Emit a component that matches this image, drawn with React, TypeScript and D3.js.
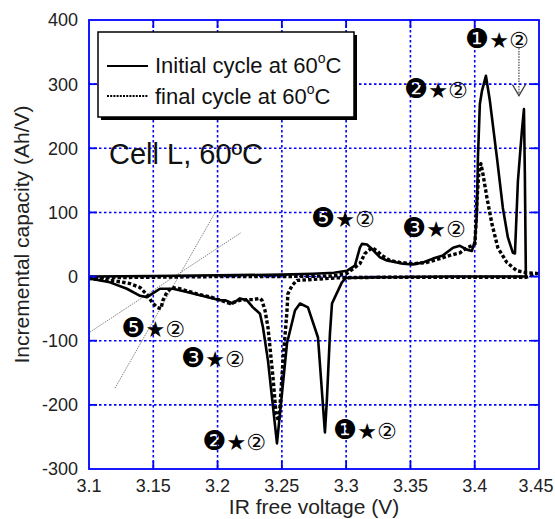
import React from "react";
import * as d3 from "d3";

// ---------- data ----------
const xTicks = [3.1, 3.15, 3.2, 3.25, 3.3, 3.35, 3.4, 3.45];
const yTicks = [-300, -200, -100, 0, 100, 200, 300, 400];

// initial cycle at 60°C (charge 3.1 -> 3.44, then discharge 3.44 -> 3.1)
const initialV = [
  3.1, 3.15, 3.2, 3.25, 3.2742, 3.2906, 3.3006, 3.3068, 3.3107, 3.3123, 3.3162, 3.3201, 3.3263,
  3.3317, 3.3395, 3.3442, 3.3519, 3.3597, 3.3675, 3.3753, 3.3831, 3.3885, 3.3939, 3.3978,
  3.4002, 3.4017, 3.4025, 3.404, 3.4056, 3.4087, 3.4118, 3.4173, 3.4219, 3.4258, 3.4297,
  3.4313, 3.4336, 3.4367, 3.4383, 3.439, 3.4398,
  3.44, 3.38, 3.33, 3.3, 3.2967, 3.2913, 3.289, 3.2874, 3.285, 3.2835, 3.2781, 3.2703,
  3.2641, 3.2602, 3.254, 3.2462, 3.2392, 3.2353, 3.233, 3.2275, 3.2229, 3.2174, 3.2119,
  3.2058, 3.2019, 3.1918, 3.1762, 3.1653, 3.1552, 3.149, 3.1451, 3.1397, 3.1295, 3.1163, 3.1,
];
const initialIC = [
  0, 1, 2, 3, 4.5, 6, 9, 17, 45, 51, 50, 43, 30,
  25, 22, 20, 19, 22, 28, 33, 45, 48, 42, 40,
  56, 98, 185, 269, 289, 313, 274, 185, 107, 61, 37,
  36, 149, 227, 261, 160, -2,
  0, 0, -1, -2, -9, -32, -42, -89, -193, -243, -95, -48,
  -42, -53, -104, -260, -131, -79, -58, -48, -37, -34, -42,
  -37, -37, -32, -24, -19, -19, -27, -32, -30, -19, -9, -3,
];

// final cycle at 60°C
const finalV = [
  3.1, 3.15, 3.2, 3.25, 3.29, 3.3006, 3.3107, 3.3146, 3.3201, 3.324, 3.3278, 3.334, 3.3418,
  3.3519, 3.3628, 3.3729, 3.3807, 3.3885, 3.3939, 3.3978, 3.4002, 3.4017, 3.4033, 3.4048,
  3.4064, 3.4095, 3.4134, 3.418, 3.425, 3.4328, 3.4406, 3.4484,
  3.44, 3.38, 3.33, 3.2928, 3.2617, 3.2579, 3.2547, 3.254, 3.2509, 3.2485, 3.2475, 3.2455,
  3.2431, 3.2392, 3.2369, 3.2345, 3.233, 3.2275, 3.2229, 3.2174, 3.2096, 3.1964, 3.184,
  3.1708, 3.1645, 3.1607, 3.1575, 3.156, 3.1529, 3.149, 3.1459, 3.1397, 3.1319, 3.1241, 3.114, 3.1,
];
const finalIC = [
  -2, -1, 0, 0, 1, 5, 20, 36, 45, 40, 33, 25, 22,
  20, 22, 28, 33, 37, 45, 48, 51, 118, 165, 176,
  160, 123, 82, 45, 22, 9, 6, 5,
  -1, -1, -1, -2, -6, -14, -27, -53, -131, -203, -225, -215,
  -157, -79, -53, -37, -34, -36, -36, -37, -42, -33, -27,
  -19, -17, -24, -37, -50, -48, -40, -30, -17, -11, -8, -6, -3,
];

// dotted tangent construction lines
const tangentA_V = [3.1202, 3.198];
const tangentA_IC = [-174, 99.5];
const tangentB_V = [3.0992, 3.2182];
const tangentB_IC = [-88.6, 68.4];

// peak annotations (first glyph, rest)
const annoHead = ["❶", "❷", "❺", "❸", "❺", "❸", "❷", "❶"];
const annoTail = "★②";
const annoV = [3.4173, 3.3698, 3.2975, 3.3683, 3.1498, 3.1964, 3.2128, 3.3146];
const annoIC = [369, 291, 90, 74, -82, -129, -258, -241];

// arrow from the top ❶★② label
const arrowV = 3.4344;
const arrowIC = [356, 282];

const seriesNames = ["Initial cycle at 60", "final cycle at 60"];

// ---------- layout ----------
const W = 555;
const H = 519;
const left = 89;
const right = 539;
const top = 20;
const bottom = 469;
const BLUE = "#0000ff";
const FONT = "'Liberation Sans', Arial, Helvetica, sans-serif";
const SYM = "'DejaVu Sans', 'Noto Sans CJK JP', sans-serif";

export default function App() {
  const x = d3.scaleLinear().domain([3.1, 3.45]).range([left, right]);
  const y = d3.scaleLinear().domain([-300, 400]).range([bottom, top]);

  const line = d3
    .line<[number, number]>()
    .x((d) => x(d[0]))
    .y((d) => y(d[1]));

  const initPts = initialV.map((v, i) => [v, initialIC[i]] as [number, number]);
  const finPts = finalV.map((v, i) => [v, finalIC[i]] as [number, number]);
  const tA = tangentA_V.map((v, i) => [v, tangentA_IC[i]] as [number, number]);
  const tB = tangentB_V.map((v, i) => [v, tangentB_IC[i]] as [number, number]);

  const ax = x(arrowV);
  const ay0 = y(arrowIC[0]);
  const ay1 = y(arrowIC[1]);

  return (
    <svg width={W} height={H} style={{ position: "absolute", left: 0, top: 0, background: "#fff" }}>
      <rect x={0} y={0} width={W} height={H} fill="#fff" />
      <defs>
        <clipPath id="plot">
          <rect x={left} y={top} width={right - left} height={bottom - top} />
        </clipPath>
      </defs>

      {/* grid */}
      {xTicks.slice(1, -1).map((t) => (
        <line key={"gx" + t} x1={x(t)} x2={x(t)} y1={top} y2={bottom} stroke={BLUE} strokeWidth={1.6} strokeDasharray="2.5,2.5" />
      ))}
      {yTicks.slice(1, -1).map((t) => (
        <line key={"gy" + t} x1={left} x2={right} y1={y(t)} y2={y(t)} stroke={BLUE} strokeWidth={1.6} strokeDasharray="2.5,2.5" />
      ))}

      {/* tangent lines */}
      <path d={line(tA) || ""} fill="none" stroke="#777" strokeWidth={0.9} strokeDasharray="1.5,1" />
      <path d={line(tB) || ""} fill="none" stroke="#777" strokeWidth={0.9} strokeDasharray="1.5,1" />

      {/* curves */}
      <g clipPath="url(#plot)">
        <path d={line(finPts) || ""} fill="none" stroke="#000" strokeWidth={3.4} strokeDasharray="3.5,2.2" strokeLinejoin="round" />
        <path d={line(initPts) || ""} fill="none" stroke="#000" strokeWidth={2.6} strokeLinejoin="round" />
      </g>

      {/* frame and ticks */}
      <rect x={left} y={top} width={right - left} height={bottom - top} fill="none" stroke={BLUE} strokeWidth={1.8} />
      {yTicks.slice(1, -1).map((t) => (
        <g key={"ty" + t}>
          <line x1={left} x2={left + 8} y1={y(t)} y2={y(t)} stroke={BLUE} strokeWidth={1.8} />
          <line x1={right - 8} x2={right} y1={y(t)} y2={y(t)} stroke={BLUE} strokeWidth={1.8} />
        </g>
      ))}
      {xTicks.slice(1, -1).map((t) => (
        <g key={"tx" + t}>
          <line x1={x(t)} x2={x(t)} y1={bottom - 8} y2={bottom} stroke={BLUE} strokeWidth={1.8} />
          <line x1={x(t)} x2={x(t)} y1={top} y2={top + 8} stroke={BLUE} strokeWidth={1.8} />
        </g>
      ))}

      {/* tick labels */}
      {yTicks.map((t) => (
        <text key={"ly" + t} x={left - 11} y={y(t)} dy="0.36em" textAnchor="end" fontFamily={FONT} fontSize={18} fill="#222">
          {t}
        </text>
      ))}
      {xTicks.map((t) => (
        <text key={"lx" + t} x={Math.min(x(t), W - 19)} y={bottom + 23} textAnchor="middle" fontFamily={FONT} fontSize={18} fill="#222">
          {t}
        </text>
      ))}

      {/* axis titles */}
      <text x={(left + right) / 2} y={514} textAnchor="middle" fontFamily={FONT} fontSize={21} fill="#222">
        IR free voltage (V)
      </text>
      <text transform={`translate(29,${(top + bottom) / 2 - 10}) rotate(-90)`} textAnchor="middle" fontFamily={FONT} fontSize={21} fill="#222">
        Incremental capacity (Ah/V)
      </text>

      {/* legend */}
      <rect x={101} y={35} width={256} height={85} fill="#000" />
      <rect x={98} y={32} width={256} height={85} fill="#fff" stroke="#000" strokeWidth={1.5} />
      <line x1={107} x2={148} y1={66} y2={66} stroke="#000" strokeWidth={2.2} />
      <line x1={107} x2={148} y1={96} y2={96} stroke="#000" strokeWidth={2.2} strokeDasharray="2,1.2" />
      <text x={155} y={73} fontFamily={FONT} fontSize={22} fill="#111">
        {seriesNames[0]}
        <tspan fontSize={14} dy={-10}>o</tspan>
        <tspan dy={10}>C</tspan>
      </text>
      <text x={155} y={104} fontFamily={FONT} fontSize={22} fill="#111">
        {seriesNames[1]}
        <tspan fontSize={14} dy={-10}>o</tspan>
        <tspan dy={10}>C</tspan>
      </text>

      {/* cell label */}
      <text x={109} y={164} fontFamily={FONT} fontSize={29} fill="#111">
        Cell L, 60ºC
      </text>

      {/* annotations */}
      {annoHead.map((h, i) => (
        <text key={"a" + i} x={x(annoV[i])} y={y(annoIC[i]) + 8} textAnchor="middle" fontFamily={SYM} fontSize={22} fill="#000">
          <tspan fontSize={27}>{h}</tspan>
          <tspan>{annoTail}</tspan>
        </text>
      ))}

      {/* arrow */}
      <line x1={ax} x2={ax} y1={ay0} y2={ay1} stroke="#444" strokeWidth={1.2} strokeDasharray="1.5,1.2" />
      <polyline points={`${ax - 6.5},${ay1 - 11} ${ax},${ay1} ${ax + 6.5},${ay1 - 11}`} fill="none" stroke="#444" strokeWidth={1.3} />
    </svg>
  );
}
